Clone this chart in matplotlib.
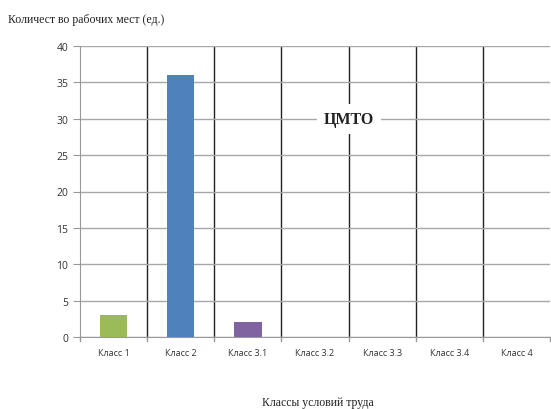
import matplotlib
matplotlib.use("Agg")
import matplotlib.pyplot as plt
import numpy as np

categories = ["Класс 1", "Класс 2", "Класс 3.1", "Класс 3.2", "Класс 3.3", "Класс 3.4", "Класс 4"]
workplaces = [3, 36, 2, 0, 0, 0, 0]
bar_colors = ["#9BBB59", "#4F81BD", "#8064A2", "#C0504D", "#4BACC6", "#F79646", "#2C4D75"]
y_ticks = [0, 5, 10, 15, 20, 25, 30, 35, 40]

fig = plt.figure(figsize=(5.51, 4.10), dpi=100)
ax = fig.add_axes([80 / 551, 72 / 410, 470 / 551, 291 / 410])

x = np.arange(len(categories))
ax.bar(x, workplaces, width=0.41, color=bar_colors[:len(categories)], zorder=3)

ax.set_xlim(-0.5, len(categories) - 0.5)
ax.set_ylim(0, 40)
ax.set_yticks(y_ticks)
ax.set_xticks(x)
ax.set_xticklabels(categories, fontsize=6.5, family="Open Sans", color="#333333")
ax.tick_params(axis="y", labelsize=7.5, colors="#333333", length=5, color="#999999")
ax.tick_params(axis="x", length=0, pad=8)
for lab in ax.get_yticklabels():
    lab.set_family("Open Sans")

# horizontal gridlines
ax.grid(axis="y", color="#a8a8a8", linewidth=1, zorder=0)
# dark separators between categories
for b in np.arange(0.5, len(categories) - 1, 1.0):
    ax.axvline(b, color="#222222", linewidth=1, zorder=1)
# small tick marks under the axis at category boundaries
for b in np.arange(-0.5, len(categories), 1.0):
    ax.plot([b, b], [0, -0.6], color="#999999", linewidth=1, clip_on=False, zorder=2)

for side in ["top", "right"]:
    ax.spines[side].set_visible(False)
ax.spines["left"].set_color("#999999")
ax.spines["bottom"].set_color("#999999")

ax.text(3.5, 30, "ЦМТО", ha="center", va="center", fontsize=11.5, fontweight="bold",
        family="Liberation Serif", color="#222222", zorder=5,
        bbox=dict(facecolor="white", edgecolor="none", pad=5))

fig.text(8 / 551, 1 - 20 / 410, "Количест во рабочих мест (ед.)", fontsize=8.5,
         family="Liberation Serif", ha="left", va="center", color="#222222")
fig.text(318 / 551, 1 - 403 / 410, "Классы условий труда", fontsize=8.5,
         family="Liberation Serif", ha="center", va="center", color="#222222")

fig.savefig("out.png", dpi=100)
